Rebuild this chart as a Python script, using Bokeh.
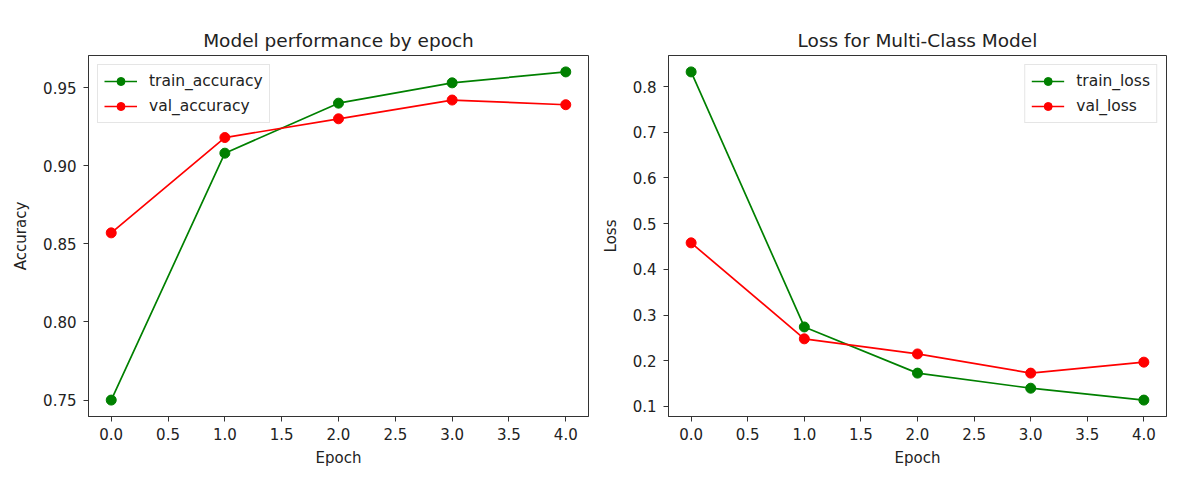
from bokeh.plotting import figure
from bokeh.layouts import row
from bokeh.models import Range1d, SingleIntervalTicker, PrintfTickFormatter
from bokeh.embed import file_html
from bokeh.resources import INLINE

epochs = [0, 1, 2, 3, 4]
train_accuracy = [0.750, 0.908, 0.940, 0.953, 0.960]
val_accuracy = [0.857, 0.918, 0.930, 0.942, 0.939]
train_loss = [0.832, 0.274, 0.173, 0.140, 0.114]
val_loss = [0.458, 0.248, 0.215, 0.173, 0.197]

x_tick_step = 0.5
acc_tick_step = 0.05
loss_tick_step = 0.1

FONT = "DejaVu Sans"
TXT = "#222222"
SPINE = "#333333"


def padded(values):
    lo, hi = min(values), max(values)
    pad = 0.05 * (hi - lo)
    return Range1d(lo - pad, hi + pad)


def make(title, ylabel, series, ystep, yfmt, loc, bl, br):
    p = figure(width=bl + 500 + br, height=55 + 361 + 60,
               min_border_left=bl, min_border_right=br,
               min_border_top=55, min_border_bottom=60,
               output_backend="svg", toolbar_location=None,
               x_range=padded(epochs),
               y_range=padded([v for _, s, _ in series for v in s]))
    p.title.text = title
    p.title.align = "center"
    p.title.text_font = FONT
    p.title.text_font_size = "18.5px"
    p.title.text_font_style = "normal"
    p.title.text_color = TXT

    p.xgrid.visible = False
    p.ygrid.visible = False
    p.outline_line_color = SPINE
    p.outline_line_width = 1
    p.background_fill_color = "white"
    p.border_fill_color = "white"

    p.xaxis.ticker = SingleIntervalTicker(interval=x_tick_step, num_minor_ticks=0)
    p.xaxis.formatter = PrintfTickFormatter(format="%.1f")
    p.yaxis.ticker = SingleIntervalTicker(interval=ystep, num_minor_ticks=0)
    p.yaxis.formatter = PrintfTickFormatter(format=yfmt)
    p.xaxis.axis_label = "Epoch"
    p.yaxis.axis_label = ylabel
    for ax in (p.xaxis[0], p.yaxis[0]):
        ax.axis_line_color = SPINE
        ax.major_tick_line_color = SPINE
        ax.major_tick_out = 5
        ax.major_tick_in = 0
        ax.minor_tick_out = 0
        ax.minor_tick_in = 0
        ax.major_label_text_font = FONT
        ax.major_label_text_font_size = "15px"
        ax.major_label_text_color = TXT
        ax.axis_label_text_font = FONT
        ax.axis_label_text_font_size = "15px"
        ax.axis_label_text_font_style = "normal"
        ax.axis_label_text_color = TXT
    p.xaxis.major_label_standoff = 6
    p.yaxis.major_label_standoff = 7
    p.xaxis.axis_label_standoff = 6
    p.yaxis.axis_label_standoff = 10

    for name, vals, color in series:
        p.line(epochs, vals, line_color=color, line_width=1.7, legend_label=name)
        p.scatter(epochs, vals, size=10, fill_color=color, line_color=color,
                  legend_label=name)

    lg = p.legend[0]
    lg.location = loc
    lg.margin = 9
    lg.padding = 6
    lg.spacing = 5
    lg.label_height = 20
    lg.glyph_height = 20
    lg.glyph_width = 33
    lg.label_standoff = 12
    lg.label_text_font = FONT
    lg.label_text_font_size = "15.5px"
    lg.label_text_color = TXT
    lg.border_line_color = "#cccccc"
    lg.border_line_width = 1
    lg.background_fill_color = "white"
    lg.background_fill_alpha = 0.8
    return p


p1 = make("Model performance by epoch", "Accuracy",
          [("train_accuracy", train_accuracy, "green"),
           ("val_accuracy", val_accuracy, "red")],
          acc_tick_step, "%.2f", "top_left", 88, 10)
p2 = make("Loss for Multi-Class Model", "Loss",
          [("train_loss", train_loss, "green"),
           ("val_loss", val_loss, "red")],
          loss_tick_step, "%.1f", "top_right", 68, 10)

layout = row(p1, p2)
open("out.html", "w").write(file_html(layout, INLINE))
